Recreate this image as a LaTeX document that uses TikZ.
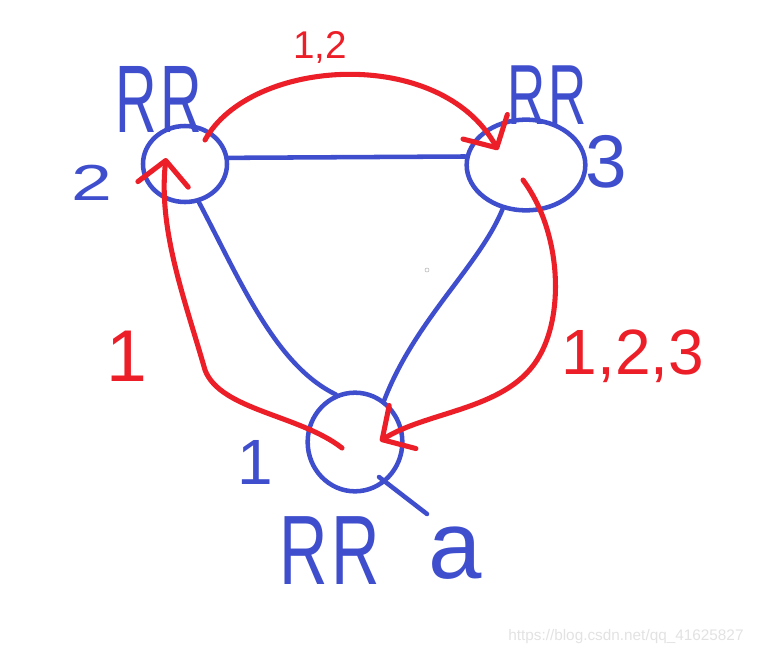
\documentclass[tikz,border=0pt]{standalone}
\usepackage{fontspec}
\usepackage{graphicx}
\setmainfont{Liberation Sans}
\usetikzlibrary{shapes.geometric,arrows.meta}
\definecolor{penblue}{RGB}{63,78,205}
\definecolor{penred}{RGB}{236,30,40}
\definecolor{wmgray}{RGB}{226,226,226}
\tikzset{
  router/.style={draw=penblue, ellipse, line width=3.4pt, inner sep=0pt},
  link/.style={draw=penblue, line width=3.4pt, line cap=round, line join=round},
  route/.style={draw=penred, line width=3.8pt, line cap=round, line join=round,
    -{Straight Barb[length=18pt,width=38pt,line cap=round,line join=round]}},
  bluetext/.style={text=penblue, inner sep=0pt},
  redtext/.style={text=penred, inner sep=0pt}
}
\begin{document}
\begin{tikzpicture}[x=0.75pt,y=-0.75pt]
\useasboundingbox (0,0) rectangle (760,657);
% routers
\node[router, minimum width=63pt, minimum height=57pt] (n2) at (185,164) {};
\node[router, minimum width=89pt, minimum height=68pt] (n3) at (526,165) {};
\node[router, minimum width=71pt, minimum height=74pt] (n1) at (355,442) {};
% blue links
\draw[link] (n2.8) -- (n3.172);
\draw[link] (n2.-70) .. controls (240,280) and (275,365) .. (n1.112);
\draw[link] (n3.-118) .. controls (480,265) and (415,320) .. (n1.55);
\coordinate (tailstart) at (379,477);
\coordinate (tailend) at (427,514);
\draw[link] (tailstart) -- (tailend);
% red routes
\coordinate (s12) at (205,140);
\coordinate (t12) at (498,150);
\draw[route] (s12) .. controls (250,58) and (440,45) .. (t12);
\coordinate (s1) at (342,448);
\coordinate (m1) at (205,370);
\coordinate (t1) at (166,158);
\draw[route] (s1) .. controls (300,415) and (220,410) .. (m1) .. controls (185,300) and (158,230) .. (t1);
\coordinate (s3) at (523,180);
\coordinate (m3) at (540,355);
\coordinate (t3) at (380,441);
\draw[route] (s3) .. controls (560,230) and (565,310) .. (m3) .. controls (510,410) and (430,410) .. (t3);
% labels
\node[bluetext, font=\fontsize{72}{72}\selectfont] (rr2) at (159,99) {\scalebox{0.6}[1]{R\kern4pt R}};
\node[bluetext, font=\fontsize{64}{64}\selectfont] (rr3) at (547,95) {\scalebox{0.62}[1]{R\kern4pt R}};
\node[bluetext, font=\fontsize{74}{74}\selectfont] (rr1) at (330,551) {\scalebox{0.68}[1]{R\kern4pt R}};
\node[bluetext, font=\fontsize{72}{72}\selectfont] (ra) at (455,553) {a};
\node[bluetext, font=\fontsize{38}{38}\selectfont] (lab2) at (92,183) {\scalebox{1.45}[1]{2}};
\node[bluetext, font=\fontsize{56}{56}\selectfont] (lab3) at (606,162) {3};
\node[bluetext, font=\fontsize{48}{48}\selectfont] (lab1) at (255,462) {1};
\node[redtext, font=\fontsize{29}{29}\selectfont] (r12) at (320,47) {1,2};
\node[redtext, font=\fontsize{55}{55}\selectfont] (r1) at (127,356) {1};
\node[redtext, font=\fontsize{48}{48}\selectfont] (r123) at (633,356) {1,2,3};
\node[draw=gray!60, circle, inner sep=0pt, minimum size=3pt, line width=0.4pt] (dot) at (427,270) {};
\node[text=wmgray, inner sep=0pt, font=\fontsize{11.5}{11.5}\selectfont, anchor=west] (wm) at (508,637) {https://blog.csdn.net/qq\_41625827};
\end{tikzpicture}
\end{document}
